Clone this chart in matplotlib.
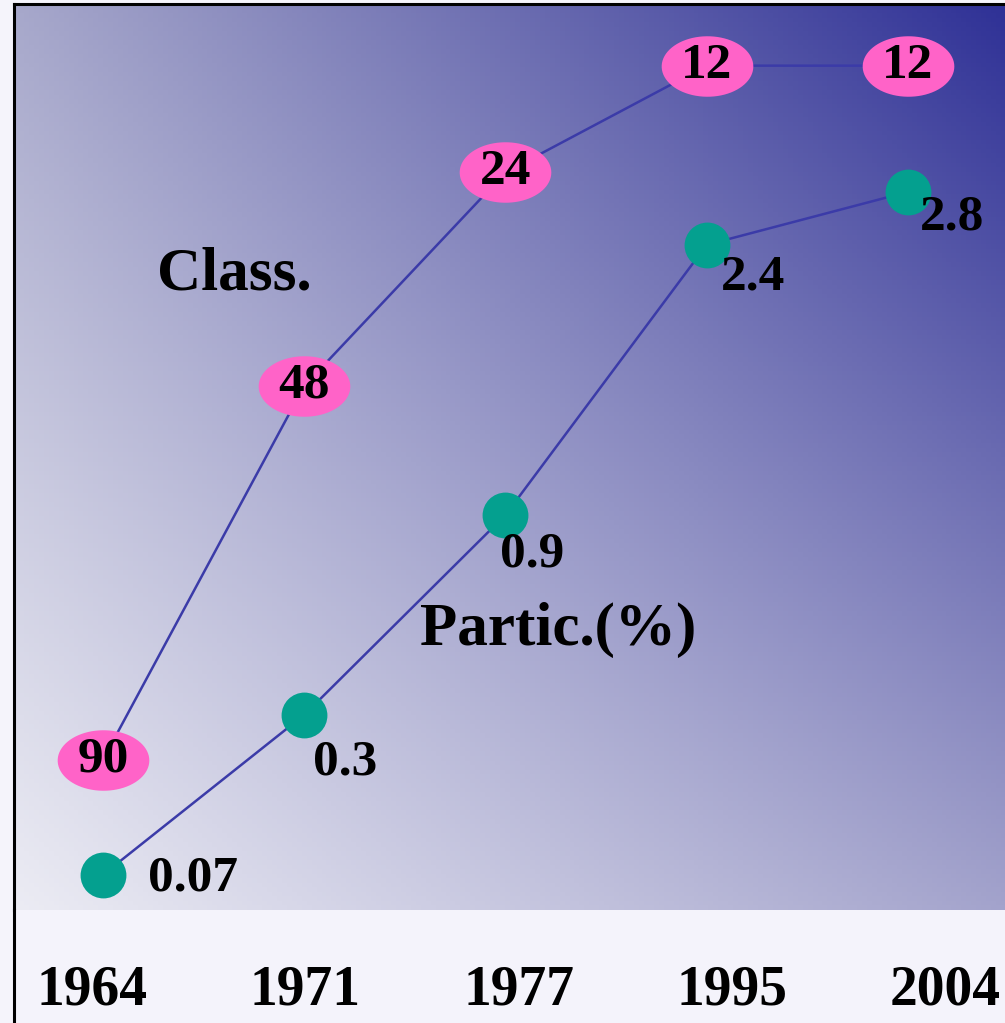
import numpy as np
import matplotlib.pyplot as plt
from matplotlib.path import Path

years = ['1964', '1971', '1977', '1995', '2004']
classes = [90, 48, 24, 12, 12]
partic = [0.07, 0.3, 0.9, 2.4, 2.8]
partic_labels = ['0.07', '0.3', '0.9', '2.4', '2.8']

# label offsets in pixels (dx right, dy down) for the partic values
lab_dx = [45, 9, -5, 14, 12]
lab_dy = [4, 48, 40, 33, 26]

serif = 'Liberation Serif'
W, H = 1005, 1023
fig = plt.figure(figsize=(W / 100, H / 100), dpi=100, facecolor='#f5f4fb')

ax = fig.add_axes([14 / W, 113 / H, 991 / W, 906 / H])
x = np.arange(len(years))

# background gradient, bilinear from the four corners
tl = np.array([167, 168, 203]) / 255
tr = np.array([47, 49, 150]) / 255
bl = np.array([236, 236, 244]) / 255
br = np.array([163, 163, 204]) / 255
u = np.linspace(0, 1, 200)[None, :, None]
v = np.linspace(0, 1, 200)[:, None, None]
img = (1 - v) * ((1 - u) * tl + u * tr) + v * ((1 - u) * bl + u * br)
ax.imshow(img, extent=[0, 1, 0, 1], transform=ax.transAxes, aspect='auto', zorder=0)

theta = np.linspace(0, 2 * np.pi, 80)
ellipse = Path(np.c_[np.cos(theta), 0.66 * np.sin(theta)], closed=True)

line_col = '#3b3ba8'
ax.plot(x, classes, color=line_col, lw=1.8, zorder=2)
ax.plot(x, classes, ls='none', marker=ellipse, markersize=66, color='#ff63c8',
        markeredgewidth=0, zorder=3)
for i, c in enumerate(classes):
    ax.text(i, c, str(c), ha='center', va='center', fontsize=37, fontweight='bold',
            family=serif, color='black', zorder=4)
ax.set_xlim(-0.442, 4.482)
ax.set_ylim(106.9, 5.07)

ax2 = ax.twinx()
fwd = lambda t: np.sign(t) * np.abs(t) ** 0.4
inv = lambda t: np.sign(t) * np.abs(t) ** 2.5
ax2.set_yscale('function', functions=(fwd, inv))
ax2.plot(x, partic, color=line_col, lw=1.8, zorder=2)
ax2.plot(x, partic, ls='none', marker='o', markersize=33, color='#04a08f',
         markeredgewidth=0, zorder=3)
for i, p in enumerate(partic):
    ax2.annotate(partic_labels[i], (i, p), xytext=(lab_dx[i] * 0.72, -lab_dy[i] * 0.72),
                 textcoords='offset points', ha='left', va='center', fontsize=37,
                 fontweight='bold', family=serif, color='black', zorder=4)
ax2.set_ylim(0.0434, 4.53)
ax2.set_xlim(-0.442, 4.482)

ax.text(0.1443, 0.7017, 'Class.', transform=ax.transAxes, ha='left', va='center',
        fontsize=44, fontweight='bold', family=serif, zorder=5)
ax.text(0.4097, 0.3094, 'Partic.(%)', transform=ax.transAxes, ha='left', va='center',
        fontsize=44, fontweight='bold', family=serif, zorder=5)

for a in (ax, ax2):
    a.set_xticks([])
    a.set_yticks([])
    a.minorticks_off()
    for s in a.spines.values():
        s.set_visible(False)
ax.spines['top'].set_visible(True)
ax.spines['top'].set_linewidth(2.2)
ax.spines['left'].set_visible(True)
ax.spines['left'].set_linewidth(2.2)

# bottom strip with the years
sx = fig.add_axes([14 / W, 0, 991 / W, 113 / H], facecolor='#f4f3fb')
sx.set_xlim(-0.366, 4.281)
sx.set_ylim(0, 1)
for i, yr in enumerate(years):
    sx.text(i, 0.29, yr, ha='center', va='center', fontsize=40, fontweight='bold',
            family=serif, color='black')
sx.set_xticks([])
sx.set_yticks([])
for s in sx.spines.values():
    s.set_visible(False)
sx.spines['left'].set_visible(True)
sx.spines['left'].set_linewidth(2.2)

plt.savefig('out.png', dpi=100, facecolor=fig.get_facecolor())
